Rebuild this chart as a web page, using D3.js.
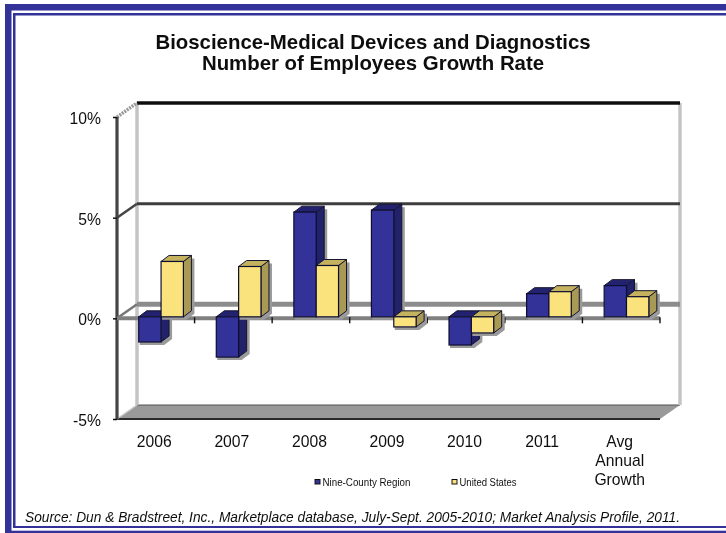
<!DOCTYPE html>
<html lang="en">
<head>
<meta charset="utf-8">
<title>Number of Employees Growth Rate</title>
<script src="https://d3js.org/d3.v7.min.js"></script>
<style>
  html, body { margin: 0; padding: 0; background: #fff; }
  svg { display: block; }
  text { font-family: "Liberation Sans", Arial, sans-serif; fill: #111; }
</style>
</head>
<body>
<div id="chart"></div>
<script>
// values
var categories = ['2006', '2007', '2008', '2009', '2010', '2011', 'Avg Annual Growth'];
var region = [-1.25, -2.0, 5.2, 5.3, -1.4, 1.15, 1.55];
var us = [2.75, 2.5, 2.55, -0.5, -0.8, 1.25, 1.0];
var yTicks = [-5, 0, 5, 10];
var titleLines = ['Bioscience-Medical Devices and Diagnostics', 'Number of Employees Growth Rate'];
var seriesNames = ['Nine-County Region', 'United States'];
var source = 'Source: Dun & Bradstreet, Inc., Marketplace database, July-Sept. 2005-2010; Market Analysis Profile, 2011.';

var w = 726, h = 533;
var blue = '#333399', yellow = '#fae37c';

var svg = d3.select('#chart').append('svg')
    .attr('width', w)
    .attr('height', h);

// the reference is a slightly soft screenshot
svg.append('filter').attr('id', 'soft')
    .attr('filterUnits', 'userSpaceOnUse')
    .attr('x', 0).attr('y', 0)
    .attr('width', w).attr('height', h)
    .append('feGaussianBlur').attr('stdDeviation', 0.5);

var root = svg.append('g').attr('filter', 'url(#soft)');

// double frame, open on the right
root.append('rect').attr('x', 5).attr('y', 4).attr('width', w - 5).attr('height', 6.5).attr('fill', blue);
root.append('rect').attr('x', 13).attr('y', 13).attr('width', w - 13).attr('height', 2.5).attr('fill', blue);
root.append('rect').attr('x', 5).attr('y', 4).attr('width', 6.5).attr('height', h - 4).attr('fill', blue);
root.append('rect').attr('x', 13).attr('y', 13).attr('width', 2.5).attr('height', 515).attr('fill', blue);
root.append('rect').attr('x', 13).attr('y', 526).attr('width', w - 13).attr('height', 2).attr('fill', blue);
root.append('rect').attr('x', 5).attr('y', 530.7).attr('width', w - 5).attr('height', 2.3).attr('fill', blue);

// title
root.selectAll('.title').data(titleLines).enter().append('text')
    .attr('class', 'title')
    .attr('x', 373)
    .attr('y', function (d, i) { return 49 + i * 21; })
    .attr('text-anchor', 'middle')
    .attr('font-size', 20.4)
    .attr('font-weight', 'bold')
    .text(function (d) { return d; });

// scales
var x = d3.scaleBand().domain(categories).range([117, 660]).padding(0);
var y = d3.scaleLinear().domain([-5, 10]).range([419, 117]);
var backDx = 20, backDy = -14;   // front plane to back wall
var depthX = 8, depthY = -6;     // depth of one bar
var barBase = -1.5;              // bars stand just behind the front line
var barW = x.bandwidth() * 0.288;
var barStart = x.bandwidth() * 0.28;

function pts(a) { return a.map(function (p) { return p.join(','); }).join(' '); }

var plot = root.append('g');
var x0 = x.range()[0], x1 = x.range()[1];

// floor
plot.append('polygon')
    .attr('points', pts([[x0, y(-5)], [x0 + backDx, y(-5) + backDy], [x1 + backDx, y(-5) + backDy], [x1, y(-5)]]))
    .attr('fill', '#999');
plot.append('line')
    .attr('x1', x0).attr('x2', x1).attr('y1', y(-5)).attr('y2', y(-5))
    .attr('stroke', '#2a2a2a').attr('stroke-width', 2);
plot.append('line')
    .attr('x1', x0 + backDx).attr('x2', x1 + backDx).attr('y1', y(-5) + backDy).attr('y2', y(-5) + backDy)
    .attr('stroke', '#555').attr('stroke-width', 1);

// back wall edges
[x0 + backDx, x1 + backDx].forEach(function (px) {
    plot.append('line')
        .attr('x1', px).attr('x2', px)
        .attr('y1', y(10) + backDy).attr('y2', y(-5) + backDy)
        .attr('stroke', '#c4c4c4').attr('stroke-width', 3.5);
});

// gridlines on the wall and along the side
var gridColor = { '10': '#0c0c0c', '5': '#3c3c3c', '0': '#8c8c8c' };
[10, 5, 0].forEach(function (t) {
    plot.append('line')
        .attr('x1', x0 + backDx).attr('x2', x1 + backDx)
        .attr('y1', y(t) + backDy).attr('y2', y(t) + backDy)
        .attr('stroke', gridColor[t]).attr('stroke-width', t === 0 ? 5 : t === 10 ? 3.5 : 3);
    plot.append('line')
        .attr('x1', x0).attr('x2', x0 + backDx)
        .attr('y1', y(t)).attr('y2', y(t) + backDy)
        .attr('stroke', t === 10 ? '#999' : t === 5 ? '#444' : '#777')
        .attr('stroke-width', t === 10 ? 3.5 : 2.5)
        .attr('stroke-dasharray', t === 10 ? '2 1' : null);
});
plot.append('line')
    .attr('x1', x0).attr('x2', x0 + backDx)
    .attr('y1', y(-5)).attr('y2', y(-5) + backDy)
    .attr('stroke', '#c8c8c8').attr('stroke-width', 1.5);

// front axis line and zero line
plot.append('line')
    .attr('x1', x0).attr('x2', x0)
    .attr('y1', y(10)).attr('y2', y(-5))
    .attr('stroke', '#444').attr('stroke-width', 3.2);
plot.append('line')
    .attr('x1', x0).attr('x2', x1)
    .attr('y1', y(0)).attr('y2', y(0))
    .attr('stroke', '#808080').attr('stroke-width', 4);

// y ticks and labels
var yAxis = d3.axisLeft(y).tickValues(yTicks).tickSize(4).tickPadding(12)
    .tickFormat(function (d) { return d + '%'; });
var gy = plot.append('g').attr('transform', 'translate(' + x0 + ',0)').call(yAxis);
gy.select('.domain').remove();
gy.selectAll('line').attr('stroke', '#111').attr('stroke-width', 1.5);
gy.selectAll('text').attr('font-size', 15.7).attr('font-family', null).attr('dy', '0.42em');

// x ticks below the zero line
plot.selectAll('.xtick').data(categories.slice(1).concat([null])).enter().append('line')
    .attr('class', 'xtick')
    .attr('x1', function (d) { return d ? x(d) : x1; })
    .attr('x2', function (d) { return d ? x(d) : x1; })
    .attr('y1', y(0) - 1).attr('y2', y(0) + 5)
    .attr('stroke', '#111').attr('stroke-width', 1.4);

// bars, region first so that the us bar sits on its right face
function drawBar(g, cx, value, face, side, top) {
    var yb = y(0) + barBase;
    var yv = y(value) + barBase;
    var t = Math.min(yb, yv), b = Math.max(yb, yv);
    // soft drop shadow
    g.append('polygon')
        .attr('points', pts([[cx + 1, b], [cx + 1, b + 3], [cx + barW + 3, b + 3], [cx + barW + depthX + 3, b + depthY + 3],
            [cx + barW + depthX + 3, t + depthY + 3], [cx + barW + depthX, t + depthY + 3], [cx + barW, b]]))
        .attr('fill', '#9a9a9a');
    g.append('polygon')
        .attr('points', pts([[cx + barW, t], [cx + barW + depthX, t + depthY], [cx + barW + depthX, b + depthY], [cx + barW, b]]))
        .attr('fill', side).attr('stroke', '#15152e').attr('stroke-width', 1);
    g.append('polygon')
        .attr('points', pts([[cx, t], [cx + depthX, t + depthY], [cx + barW + depthX, t + depthY], [cx + barW, t]]))
        .attr('fill', top).attr('stroke', '#15152e').attr('stroke-width', 1);
    g.append('rect')
        .attr('x', cx).attr('y', t).attr('width', barW).attr('height', b - t)
        .attr('fill', face).attr('stroke', '#101030').attr('stroke-width', 1.2);
}

var bars = plot.append('g');
categories.forEach(function (c, i) {
    var g = bars.append('g');
    drawBar(g, x(c) + barStart, region[i], blue, '#20206b', '#24246f');
    drawBar(g, x(c) + barStart + barW, us[i], yellow, '#a89a55', '#c4b25e');
});

// category labels, the last one wraps over three lines
var catLabels = root.selectAll('.cat').data(categories).enter().append('text')
    .attr('class', 'cat')
    .attr('text-anchor', 'middle')
    .attr('font-size', 15.7)
    .attr('y', 447);
catLabels.each(function (d) {
    var node = d3.select(this);
    d.split(' ').forEach(function (part, i) {
        node.append('tspan')
            .attr('x', x(d) + x.bandwidth() / 2 - 1.5)
            .attr('y', 447 + i * 19)
            .text(part);
    });
});

// legend
var legendX = [315, 452], legendText = [88, 57];
var legend = root.selectAll('.legend').data(seriesNames).enter().append('g')
    .attr('class', 'legend')
    .attr('transform', function (d, i) { return 'translate(' + legendX[i] + ',479.5)'; });
legend.append('rect')
    .attr('width', 5).attr('height', 4.5)
    .attr('fill', function (d, i) { return i === 0 ? blue : yellow; })
    .attr('stroke', '#111').attr('stroke-width', 1);
legend.append('text')
    .attr('x', 7.5).attr('y', 6)
    .attr('font-size', 10)
    .attr('textLength', function (d, i) { return legendText[i]; })
    .attr('lengthAdjust', 'spacingAndGlyphs')
    .text(function (d) { return d; });

// source line
root.append('text')
    .attr('x', 25).attr('y', 521.5)
    .attr('font-size', 13.8)
    .attr('font-style', 'italic')
    .attr('textLength', 655)
    .attr('lengthAdjust', 'spacingAndGlyphs')
    .text(source);
</script>
</body>
</html>
